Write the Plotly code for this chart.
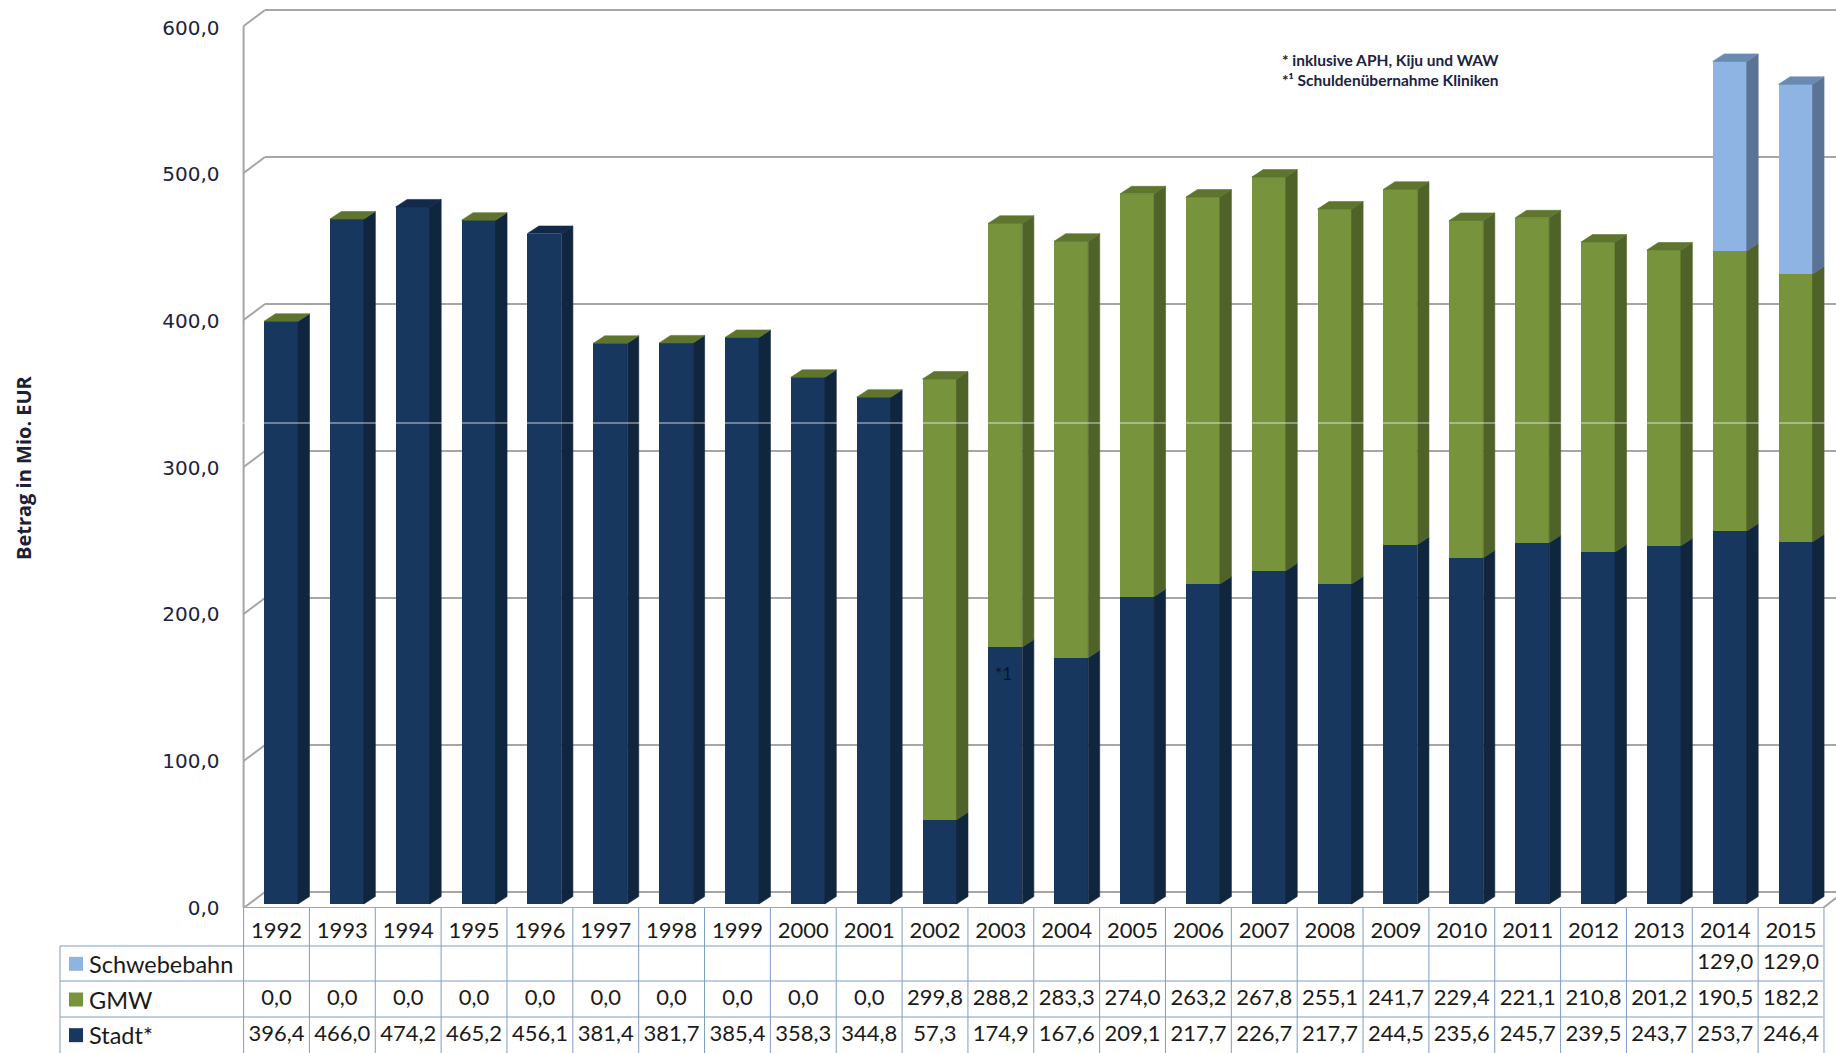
import plotly.graph_objects as go

years = list(range(1992, 2016))
stadt = [396.4, 466.0, 474.2, 465.2, 456.1, 381.4, 381.7, 385.4, 358.3, 344.8, 57.3, 174.9,
         167.6, 209.1, 217.7, 226.7, 217.7, 244.5, 235.6, 245.7, 239.5, 243.7, 253.7, 246.4]
gmw = [0.0] * 10 + [299.8, 288.2, 283.3, 274.0, 263.2, 267.8, 255.1, 241.7, 229.4, 221.1,
                    210.8, 201.2, 190.5, 182.2]
schwebebahn = [None] * 22 + [129.0, 129.0]
navy_top_years = [1994, 1996]
y_ticks = [0, 100, 200, 300, 400, 500, 600]

W, H = 1836, 1053
PITCH = 65.85          # px per category
X0 = 276.5             # pixel of category 0
PX_PER_UNIT = 1.47     # px per EUR million on the bar plane
BASE_PX = 904          # pixel of value 0 on the bar plane
AXIS_BOTTOM = 908
TABLE_TOP = 946
ROW_LINES = [946, 981, 1017]
TABLE_L, TABLE_M, TABLE_R = 60, 243.6, 1823


def xd(p):
    return (p - X0) / PITCH


def yd(p):
    return (BASE_PX - p) / PX_PER_UNIT


def py(p):
    return 1 - p / H


BAR_W = 34 / PITCH
BAR_OFF = (264 - X0) / PITCH
DEP_X = 11.5 / PITCH
DEP_Y = 7.5 / PX_PER_UNIT

NAVY, NAVY_S, NAVY_T = "#17375e", "#10263f", "#12294a"
GREEN, GREEN_S, GREEN_T = "#77933c", "#4f6228", "#5f752f"
BLUE, BLUE_S, BLUE_T = "#8eb4e3", "#5a7397", "#6a8ab2"
GRID = "#a6a6a6"
TBL = "#7f9dc4"
TXT = "#1a1a1a"

fig = go.Figure()
xs = list(range(len(years)))
for name, vals, col in [("Stadt*", stadt, NAVY), ("GMW", gmw, GREEN), ("Schwebebahn", schwebebahn, BLUE)]:
    fig.add_bar(x=xs, y=vals, name=name, marker=dict(color=col, line=dict(width=0)),
                width=BAR_W, offset=BAR_OFF, xaxis="x", yaxis="y", hoverinfo="skip")


def side_trace(lo, hi, col):
    px, py_ = [], []
    for i, (a, b) in enumerate(zip(lo, hi)):
        if b is None or b <= a:
            continue
        r = i + BAR_OFF + BAR_W
        px += [r, r + DEP_X, r + DEP_X, r, r, None]
        py_ += [a, a + DEP_Y, b + DEP_Y, b, a, None]
    return go.Scatter(x=px, y=py_, mode="lines", fill="toself", fillcolor=col,
                      line=dict(width=0.6, color=col), xaxis="x", yaxis="y", hoverinfo="skip")


def top_trace(idx, tops, col):
    px, py_ = [], []
    for i in idx:
        l, r, t = i + BAR_OFF, i + BAR_OFF + BAR_W, tops[i]
        px += [l, l + DEP_X, r + DEP_X, r, l, None]
        py_ += [t, t + DEP_Y, t + DEP_Y, t, t, None]
    return go.Scatter(x=px, y=py_, mode="lines", fill="toself", fillcolor=col,
                      line=dict(width=0.6, color=col), xaxis="x", yaxis="y", hoverinfo="skip")


level1 = stadt
level2 = [a + b for a, b in zip(stadt, gmw)]
level3 = [a + (c or 0) for a, c in zip(level2, schwebebahn)]
fig.add_trace(side_trace([0] * len(years), level1, NAVY_S))
fig.add_trace(side_trace(level1, level2, GREEN_S))
fig.add_trace(side_trace(level2, level3, BLUE_S))

t_navy = [i for i, y in enumerate(years) if y in navy_top_years]
t_blue = [i for i, c in enumerate(schwebebahn) if c]
t_green = [i for i in xs if i not in t_navy and i not in t_blue]
fig.add_trace(top_trace(t_navy, level3, NAVY_T))
fig.add_trace(top_trace(t_green, level3, GREEN_T))
fig.add_trace(top_trace(t_blue, level3, BLUE_T))

# invisible carrier of the labelled value axis
fig.add_trace(go.Scatter(x=[0] * len(y_ticks), y=y_ticks, mode="markers", marker=dict(opacity=0),
                         xaxis="x", yaxis="y2", hoverinfo="skip"))

# table rows (y3: 0.5 = Stadt, 1.5 = GMW, 2.5 = Schwebebahn)
rows = [(0.5, stadt, "Stadt*", NAVY), (1.5, gmw, "GMW", GREEN), (2.5, schwebebahn, "Schwebebahn", BLUE)]
tfont = dict(family="Lato", size=22, color=TXT)
label_font = dict(family="Lato", size=23.5, color=TXT)
for ypos, vals, label, col in rows:
    shown = [(i, v) for i, v in enumerate(vals) if v is not None]
    fig.add_trace(go.Scatter(x=[i for i, _ in shown], y=[ypos] * len(shown), mode="text",
                             text=[f"{v:.1f}".replace(".", ",") for _, v in shown],
                             textfont=tfont, textposition="middle center",
                             xaxis="x", yaxis="y3", hoverinfo="skip"))
    fig.add_trace(go.Scatter(x=[xd(76)], y=[ypos], mode="markers",
                             marker=dict(symbol="square", size=14, color=col, line=dict(width=0)),
                             xaxis="x", yaxis="y3", hoverinfo="skip"))
    fig.add_annotation(x=xd(87), y=ypos, xref="x", yref="y3", text=label, showarrow=False,
                       xanchor="left", yanchor="middle", font=label_font)

shapes = []
# back wall grid + left diagonal stubs
FRONT_DY = (AXIS_BOTTOM - BASE_PX) / PX_PER_UNIT   # front wall below bar plane
BACK_DY = (BASE_PX - 892) / PX_PER_UNIT            # back wall above bar plane
LINE = dict(color=GRID, width=2)
for v in y_ticks:
    shapes.append(dict(type="line", xref="x", yref="y", layer="below", line=LINE,
                       x0=xd(265), x1=xd(1850), y0=v + BACK_DY, y1=v + BACK_DY))
    shapes.append(dict(type="line", xref="x", yref="y", layer="below", line=LINE,
                       x0=xd(TABLE_M), x1=xd(265), y0=v - FRONT_DY, y1=v + BACK_DY))
shapes.append(dict(type="line", xref="x", yref="y", layer="below", line=LINE,
                   x0=xd(TABLE_M), x1=xd(TABLE_M), y0=-FRONT_DY, y1=600 - FRONT_DY))
shapes.append(dict(type="line", xref="x", yref="y", layer="above", line=LINE,
                   x0=xd(TABLE_M), x1=xd(TABLE_R), y0=-FRONT_DY, y1=-FRONT_DY))
shapes.append(dict(type="line", xref="x", yref="y", layer="below", line=LINE,
                   x0=xd(TABLE_R), x1=xd(1844), y0=-FRONT_DY, y1=BACK_DY))
# table lines
TL = dict(color=TBL, width=1)
for p in ROW_LINES:
    shapes.append(dict(type="line", xref="x", yref="paper", line=TL,
                       x0=xd(TABLE_L), x1=xd(TABLE_R), y0=py(p), y1=py(p)))
for i in range(len(years) + 1):
    shapes.append(dict(type="line", xref="x", yref="paper", line=TL,
                       x0=i - 0.5, x1=i - 0.5, y0=py(AXIS_BOTTOM), y1=py(H)))
shapes.append(dict(type="line", xref="x", yref="paper", line=TL,
                   x0=xd(TABLE_L), x1=xd(TABLE_L), y0=py(TABLE_TOP), y1=py(H)))
# thin scan seam crossing the picture
shapes.append(dict(type="line", xref="paper", yref="paper", layer="above",
                   line=dict(color="rgba(255,255,255,0.75)", width=1), x0=0, x1=1, y0=py(423), y1=py(423)))

note_font = dict(family="Lato", size=16.5, color="#1c2340")
annos = [
    dict(x=xd(1280), y=py(60), text="<b>* inklusive APH, Kiju und WAW</b>"),
    dict(x=xd(1280), y=py(80), text="<b>*¹ Schuldenübernahme Kliniken</b>"),
]
for a in annos:
    fig.add_annotation(xref="x", yref="paper", showarrow=False, xanchor="left", yanchor="middle",
                       font=dict(family="Lato", size=15.5, color="#1c2340"), **a)
fig.add_annotation(x=xd(1003), y=py(673), xref="x", yref="paper", text="*1", showarrow=False,
                   font=dict(family="Lato", size=17, color="#0b1526"))
fig.add_annotation(x=23 / W, y=py(468), xref="paper", yref="paper", text="<b>Betrag in Mio. EUR</b>",
                   textangle=-90, showarrow=False, xanchor="center", yanchor="middle",
                   font=dict(family="Open Sans", size=20, color="#1a2035"))

fig.update_layout(
    width=W, height=H, autosize=False,
    margin=dict(l=0, r=0, t=0, b=0, pad=0),
    paper_bgcolor="white", plot_bgcolor="rgba(0,0,0,0)",
    barmode="stack", showlegend=False, shapes=shapes,
    xaxis=dict(domain=[0, 1], range=[xd(0), xd(W)], tickmode="array", tickvals=xs,
               ticktext=[str(y) for y in years], showgrid=False, zeroline=False, showline=False,
               ticks="outside", ticklen=3, tickcolor="rgba(0,0,0,0)", automargin=False,
               tickfont=tfont, anchor="y"),
    yaxis=dict(domain=[py(AXIS_BOTTOM), 1], range=[yd(AXIS_BOTTOM), yd(0)], visible=False, fixedrange=True,
               automargin=False),
    yaxis2=dict(domain=[py(AXIS_BOTTOM), 1], overlaying="y", anchor="free", position=TABLE_M / W, side="left",
                range=[(907.5 - AXIS_BOTTOM) / (880 / 600), 907.5 / (880 / 600)],
                tickmode="array", tickvals=y_ticks, ticktext=[f"{v},0" for v in y_ticks],
                tickfont=dict(family="DejaVu Sans", size=20, color="#1c2340"),
                ticks="outside", ticklen=20, tickcolor="rgba(0,0,0,0)", automargin=False,
                showgrid=False, zeroline=False, showline=False),
    yaxis3=dict(domain=[0, py(TABLE_TOP)], range=[0, 3], visible=False, fixedrange=True, automargin=False),
)

fig.write_html("out.html", config=dict(displayModeBar=False, responsive=False),
               post_script="document.body.style.margin='0';document.body.style.overflow='hidden';")
